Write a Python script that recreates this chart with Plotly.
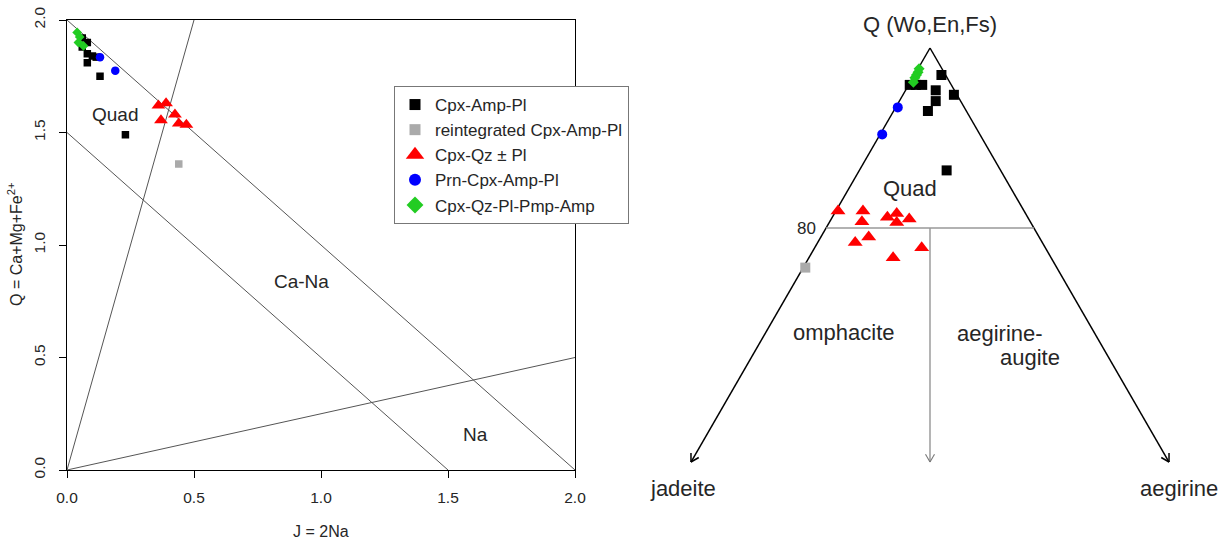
import numpy as np
import plotly.graph_objects as go

# ---------------- Left panel data: J = 2Na, Q = Ca+Mg+Fe2+ ----------------
amp_J = [0.06, 0.08, 0.06, 0.08, 0.10, 0.115, 0.08, 0.13, 0.23]
amp_Q = [1.92, 1.90, 1.88, 1.85, 1.84, 1.835, 1.81, 1.75, 1.49]

reint_J = [0.44]
reint_Q = [1.36]

qz_J = [0.36, 0.39, 0.425, 0.37, 0.44, 0.47]
qz_Q = [1.62, 1.63, 1.58, 1.555, 1.54, 1.535]

prn_J = [0.13, 0.19]
prn_Q = [1.835, 1.775]

pmp_J = [0.04, 0.05, 0.045, 0.065]
pmp_Q = [1.945, 1.925, 1.90, 1.885]

# boundary lines of the Q-J diagram
bnd_J = [[0, 2], [0, 1.5], [0, 0.5], [0, 2]]
bnd_Q = [[2, 0], [1.5, 0], [0, 2], [0, 0.5]]

ticks_left = [0.0, 0.5, 1.0, 1.5, 2.0]
tick_text_left = ["0.0", "0.5", "1.0", "1.5", "2.0"]

# ---------------- Right panel data: ternary (Q, Jd, Ae) in % ----------------
amp_t_Q = [95.9, 95.9, 95.9, 97.0, 95.3, 94.1, 94.8, 93.0, 86.4]
amp_t_Jd = [4.0, 3.4, 2.8, 0.4, 1.8, 2.4, 0.3, 3.7, 5.2]
amp_t_Ae = [0.1, 0.7, 1.3, 2.6, 2.9, 3.5, 4.9, 3.3, 8.4]

reint_t_Q = [75.6]
reint_t_Jd = [24.2]
reint_t_Ae = [0.2]

qz_t_Q = [81.9, 81.9, 80.7, 81.2, 81.6, 80.6, 81.0, 78.4, 79.0, 76.7, 77.8]
qz_t_Jd = [17.9, 15.5, 16.2, 13.5, 12.4, 12.9, 11.5, 18.0, 16.4, 15.2, 11.9]
qz_t_Ae = [0.2, 2.6, 3.1, 5.3, 6.0, 6.5, 7.5, 3.6, 4.6, 8.1, 10.3]

prn_t_Q = [93.4, 90.4]
prn_t_Jd = [6.4, 9.4]
prn_t_Ae = [0.2, 0.2]

pmp_t_Q = [96.2, 96.7, 97.0, 97.3, 97.7]
pmp_t_Jd = [3.5, 3.1, 2.8, 2.5, 2.2]
pmp_t_Ae = [0.3, 0.2, 0.2, 0.2, 0.1]

Q_APEX = 100.0
Q_END = 54.0     # where the truncated diagram's edges end (arrows)
Q_QUAD = 80.0    # Quad boundary

SQ3 = np.sqrt(3.0)


def tern(q, jd, ae):
    q, jd, ae = (np.asarray(v, dtype=float) for v in (q, jd, ae))
    s = q + jd + ae
    return ((ae - jd) / s / SQ3).tolist(), (q / s).tolist()


FONT = "Liberation Sans, Arial, sans-serif"
TXT = "#262626"

fig = go.Figure()

# ---- Left panel boundary lines
for bj, bq in zip(bnd_J, bnd_Q):
    fig.add_trace(go.Scatter(x=bj, y=bq, mode="lines",
                             line=dict(color="#555555", width=1),
                             showlegend=False, hoverinfo="skip",
                             xaxis="x", yaxis="y"))

styles = [
    ("Cpx-Amp-Pl", "black", "square", 7.5, 10, 11),
    ("reintegrated Cpx-Amp-Pl", "#aaaaaa", "square", 7.5, 10, 11),
    ("Cpx-Qz ± Pl", "#ff0000", "triangle-up", 12, 13, 16),
    ("Prn-Cpx-Amp-Pl", "#0000ff", "circle", 8.5, 10, 12),
    ("Cpx-Qz-Pl-Pmp-Amp", "#22cc22", "diamond", 7.5, 8.5, 13),
]
left_data = [(amp_J, amp_Q), (reint_J, reint_Q), (qz_J, qz_Q),
             (prn_J, prn_Q), (pmp_J, pmp_Q)]
right_data = [(amp_t_Q, amp_t_Jd, amp_t_Ae), (reint_t_Q, reint_t_Jd, reint_t_Ae),
              (qz_t_Q, qz_t_Jd, qz_t_Ae), (prn_t_Q, prn_t_Jd, prn_t_Ae),
              (pmp_t_Q, pmp_t_Jd, pmp_t_Ae)]

# ---- Right panel structure
apex = tern([Q_APEX], [0], [0])
left_end = tern([Q_END], [100 - Q_END], [0])
right_end = tern([Q_END], [0], [100 - Q_END])
quad_l = tern([Q_QUAD], [100 - Q_QUAD], [0])
quad_r = tern([Q_QUAD], [0], [100 - Q_QUAD])
mid_top = tern([Q_QUAD], [(100 - Q_QUAD) / 2], [(100 - Q_QUAD) / 2])
mid_end = tern([Q_END], [(100 - Q_END) / 2], [(100 - Q_END) / 2])

PX = 900.0  # pixels per axis unit on the right panel
HEAD = 9.0 / PX


def arrow(p0, p1):
    x0, y0 = p0[0][0], p0[1][0]
    x1, y1 = p1[0][0], p1[1][0]
    d = np.array([x1 - x0, y1 - y0])
    d = d / np.linalg.norm(d)
    xs, ys = [x0, x1, None], [y0, y1, None]
    for ang in (np.pi / 6, -np.pi / 6):
        c, s = np.cos(ang), np.sin(ang)
        r = np.array([c * d[0] - s * d[1], s * d[0] + c * d[1]])
        xs += [x1, x1 - HEAD * r[0], None]
        ys += [y1, y1 - HEAD * r[1], None]
    return xs, ys


for p0, p1, col, wd in [(apex, left_end, "black", 1.5), (apex, right_end, "black", 1.5),
                        (mid_top, mid_end, "#777777", 1.1)]:
    xs, ys = arrow(p0, p1)
    fig.add_trace(go.Scatter(x=xs, y=ys, mode="lines", line=dict(color=col, width=wd),
                             showlegend=False, hoverinfo="skip",
                             xaxis="x2", yaxis="y2"))
fig.add_trace(go.Scatter(x=[quad_l[0][0], quad_r[0][0]], y=[quad_l[1][0], quad_r[1][0]],
                         mode="lines", line=dict(color="#999999", width=1.6),
                         showlegend=False, hoverinfo="skip", xaxis="x2", yaxis="y2"))

# ---- data points
for (name, col, sym, sl, sr, sleg), (lj, lq), (tq, tj, ta) in zip(styles, left_data, right_data):
    fig.add_trace(go.Scatter(x=lj, y=lq, mode="markers", name=name,
                             marker=dict(symbol=sym, color=col, size=sl, line=dict(width=0)),
                             showlegend=False, xaxis="x", yaxis="y"))
    rx, ry = tern(tq, tj, ta)
    fig.add_trace(go.Scatter(x=rx, y=ry, mode="markers", name=name,
                             marker=dict(symbol=sym, color=col, size=sr, line=dict(width=0)),
                             showlegend=False, xaxis="x2", yaxis="y2"))
    fig.add_trace(go.Scatter(x=[None], y=[None], mode="markers", name=name,
                             marker=dict(symbol=sym, color=col, size=sleg, line=dict(width=0)),
                             showlegend=True, xaxis="x", yaxis="y"))

W, H = 1229, 541
ann = []
# left panel texts
for t, x, y in [("Quad", 0.19, 1.58), ("Ca-Na", 0.925, 0.836), ("Na", 1.61, 0.156)]:
    ann.append(dict(text=t, x=x, y=y, xref="x", yref="y", showarrow=False,
                    xanchor="center", yanchor="middle",
                    font=dict(family=FONT, size=19, color=TXT)))
ann.append(dict(text="J = 2Na", x=321 / W, y=1 - 531 / H, xref="paper", yref="paper",
                xanchor="center", yanchor="middle",
                showarrow=False, font=dict(family=FONT, size=16, color=TXT)))
ann.append(dict(text="Q = Ca+Mg+Fe<sup>2+</sup>", x=15 / W, y=1 - 245 / H, xref="paper",
                yref="paper", showarrow=False, textangle=-90,
                xanchor="center", yanchor="middle",
                font=dict(family=FONT, size=16, color=TXT)))
# right panel texts
for t, x, y, sz in [("Q (Wo,En,Fs)", 0.0, 1.0256, 22), ("Quad", -0.0222, 0.8444, 22),
                    ("omphacite", -0.0956, 0.6844, 22), ("aegirine-", 0.0778, 0.6833, 22),
                    ("augite", 0.1111, 0.6556, 22), ("jadeite", -0.2744, 0.5111, 22),
                    ("aegirine", 0.2767, 0.5111, 22)]:
    ann.append(dict(text=t, x=x, y=y, xref="x2", yref="y2", showarrow=False,
                    xanchor="center", yanchor="middle",
                    font=dict(family=FONT, size=sz, color=TXT)))
ann.append(dict(text="80", x=quad_l[0][0] - 8 / PX, y=quad_l[1][0], xref="x2", yref="y2",
                xanchor="right", yanchor="middle", showarrow=False,
                font=dict(family=FONT, size=17, color=TXT)))

axis_common = dict(showgrid=False, zeroline=False, showline=True, linecolor="black",
                   linewidth=1, mirror=True, ticks="outside", ticklen=7, tickcolor="black",
                   tickvals=ticks_left, ticktext=tick_text_left, automargin=False,
                   tickfont=dict(family=FONT, size=15.5, color=TXT))

fig.update_layout(
    width=W, height=H, margin=dict(l=0, r=0, t=0, b=0, autoexpand=False),
    paper_bgcolor="white", plot_bgcolor="white",
    xaxis=dict(domain=[67 / W, 575 / W], range=[0, 2], ticklabelstandoff=6, **axis_common),
    yaxis=dict(domain=[(H - 470) / H, (H - 20) / H], range=[0, 2], tickangle=-90,
               ticklabelstandoff=8, **axis_common),
    xaxis2=dict(domain=[640 / W, 1.0], range=[(640 - 930) / PX, (1229 - 930) / PX],
                visible=False, anchor="y2", automargin=False),
    yaxis2=dict(domain=[0, 1], range=[1 - (541 - 48) / PX, 1 + 48 / PX],
                visible=False, anchor="x2", automargin=False),
    legend=dict(x=394 / W, y=1 - 86 / H, xanchor="left", yanchor="top",
                bordercolor="#777777", borderwidth=1, bgcolor="white",
                font=dict(family=FONT, size=17, color=TXT), tracegroupgap=2),
    annotations=ann,
    showlegend=True,
)

fig.write_html("out.html", config={"displayModeBar": False},
               post_script="document.body.style.margin='0px';document.body.style.overflow='hidden';")
